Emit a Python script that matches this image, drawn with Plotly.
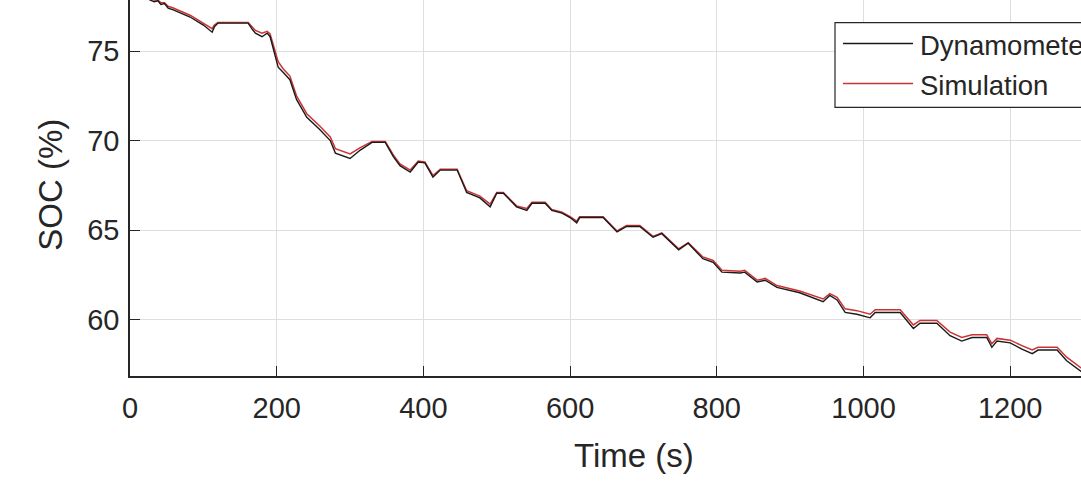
import plotly.graph_objects as go

# ---- data ----
time_s = [20, 27, 33, 38, 42, 47, 52, 59, 82, 100, 112, 115, 120, 161, 167, 171, 180, 187, 191,
          202, 209, 218, 227, 241, 259, 273, 280, 300, 314, 330, 348, 359, 368, 382, 393, 402,
          413, 423, 446, 459, 477, 488, 491, 500, 509, 527, 541, 548, 566, 575, 589, 600, 609,
          613, 645, 664, 677, 695, 713, 725, 748, 761, 781, 795, 807, 832, 838, 855, 866, 882,
          913, 945, 954, 964, 975, 991, 1009, 1016, 1050, 1068, 1077, 1100, 1118, 1134, 1148,
          1168, 1175, 1182, 1200, 1216, 1230, 1238, 1264, 1277, 1300]

soc_dynamometer = [78.1, 77.85, 77.75, 77.8, 77.6, 77.65, 77.4, 77.3, 76.9, 76.45, 76.05, 76.35,
                   76.56, 76.56, 76.2, 76.0, 75.8, 76.0, 75.8, 74.1, 73.8, 73.4, 72.3, 71.3,
                   70.6, 70.0, 69.3, 69.0, 69.47, 69.9, 69.9, 69.1, 68.6, 68.24, 68.8, 68.75,
                   67.96, 68.35, 68.35, 67.1, 66.8, 66.4, 66.3, 67.06, 67.06, 66.3, 66.1, 66.5,
                   66.5, 66.1, 65.95, 65.7, 65.4, 65.7, 65.7, 64.9, 65.2, 65.2, 64.6, 64.8,
                   63.9, 64.27, 63.4, 63.2, 62.65, 62.6, 62.65, 62.1, 62.2, 61.8, 61.5, 61.0,
                   61.35, 61.1, 60.4, 60.3, 60.1, 60.4, 60.4, 59.5, 59.8, 59.8, 59.1, 58.8,
                   59.0, 59.0, 58.45, 58.8, 58.7, 58.35, 58.1, 58.3, 58.3, 57.7, 57.0]

soc_simulation = [78.2, 77.9, 77.85, 77.85, 77.7, 77.7, 77.5, 77.4, 77.0, 76.55, 76.25, 76.45,
                  76.6, 76.6, 76.3, 76.15, 76.0, 76.1, 75.95, 74.4, 74.0, 73.6, 72.5, 71.5,
                  70.8, 70.2, 69.55, 69.25, 69.6, 69.95, 69.95, 69.2, 68.7, 68.35, 68.85, 68.8,
                  68.05, 68.4, 68.4, 67.2, 66.9, 66.55, 66.45, 67.1, 67.1, 66.35, 66.2, 66.55,
                  66.55, 66.15, 66.0, 65.75, 65.5, 65.75, 65.75, 64.95, 65.25, 65.25, 64.65,
                  64.85, 63.95, 64.3, 63.5, 63.3, 62.75, 62.7, 62.75, 62.2, 62.3, 61.9, 61.6,
                  61.15, 61.45, 61.25, 60.6, 60.5, 60.3, 60.55, 60.55, 59.7, 59.95, 59.95,
                  59.3, 59.0, 59.15, 59.15, 58.65, 58.95, 58.85, 58.55, 58.3, 58.45, 58.45,
                  57.9, 57.2]

x_ticks = [0, 200, 400, 600, 800, 1000, 1200]
y_ticks = [60, 65, 70, 75]
series_names = ["Dynamometer", "Simulation"]
x_title = "Time (s)"
y_title = "SOC (%)"

# ---- figure ----
W, H = 1081, 489
L, B = 130, 113.3
plot_w = W - L
plot_h = H - B

def px_x(p):
    return (p - L) / plot_w

def px_y(p):
    return (plot_h - p) / plot_h

FONT = "Liberation Sans, Arial, sans-serif"
AX = "#262626"
RED = "#cc3333"

fig = go.Figure()
fig.add_trace(go.Scatter(x=time_s, y=soc_simulation, mode="lines", name=series_names[1],
                         line=dict(color=RED, width=1.5), showlegend=False))
fig.add_trace(go.Scatter(x=time_s, y=soc_dynamometer, mode="lines", name=series_names[0],
                         line=dict(color="#1a1a1a", width=1.4), showlegend=False))

fig.update_layout(
    width=W, height=H,
    margin=dict(l=L, r=0, t=0, b=B, autoexpand=False),
    paper_bgcolor="white", plot_bgcolor="white",
    font=dict(family=FONT, color=AX),
    xaxis=dict(range=[0, plot_w / 0.7335], tickvals=x_ticks, ticks="inside", ticklen=10,
               tickwidth=1.2, tickcolor=AX, showline=True, linecolor=AX, linewidth=1.5,
               showgrid=True, gridcolor="#dedede", gridwidth=1, zeroline=False,
               tickfont=dict(size=29, color=AX, family=FONT), ticklabelstandoff=5),
    yaxis=dict(range=[56.85, 77.85], tickvals=y_ticks, ticks="inside", ticklen=10,
               tickwidth=1.2, tickcolor=AX, showline=True, linecolor=AX, linewidth=1.5,
               showgrid=True, gridcolor="#dedede", gridwidth=1, zeroline=False,
               tickfont=dict(size=29, color=AX, family=FONT), ticklabelstandoff=3),
)

# axis titles (original axes extend beyond the cropped picture)
fig.add_annotation(text=x_title, xref="paper", yref="paper", x=px_x(633.5), y=px_y(455),
                   xanchor="center", yanchor="middle", showarrow=False,
                   font=dict(size=33, color=AX, family=FONT))
fig.add_annotation(text=y_title, xref="paper", yref="paper", x=px_x(51), y=px_y(184.5),
                   xanchor="center", yanchor="middle", showarrow=False, textangle=-90,
                   font=dict(size=33, color=AX, family=FONT))

# legend box (cropped at the right edge in the reference)
fig.add_shape(type="rect", xref="paper", yref="paper", x0=px_x(835), x1=px_x(1130),
              y0=px_y(107.3), y1=px_y(22.7), line=dict(color=AX, width=1.2),
              fillcolor="white", layer="above")
legend_rows = [(series_names[0], "#1a1a1a", 43.5), (series_names[1], RED, 83.5)]
for name, col, yy in legend_rows:
    fig.add_shape(type="line", xref="paper", yref="paper", x0=px_x(843), x1=px_x(913),
                  y0=px_y(yy), y1=px_y(yy), line=dict(color=col, width=1.4), layer="above")
    fig.add_annotation(text=name, xref="paper", yref="paper", x=px_x(918), y=px_y(yy + 1.5),
                       xanchor="left", yanchor="middle", showarrow=False,
                       font=dict(size=27.5, color=AX, family=FONT))

fig.write_html("out.html", config={"displayModeBar": False},
               post_script="document.body.style.margin='0';document.body.style.overflow='hidden';")
